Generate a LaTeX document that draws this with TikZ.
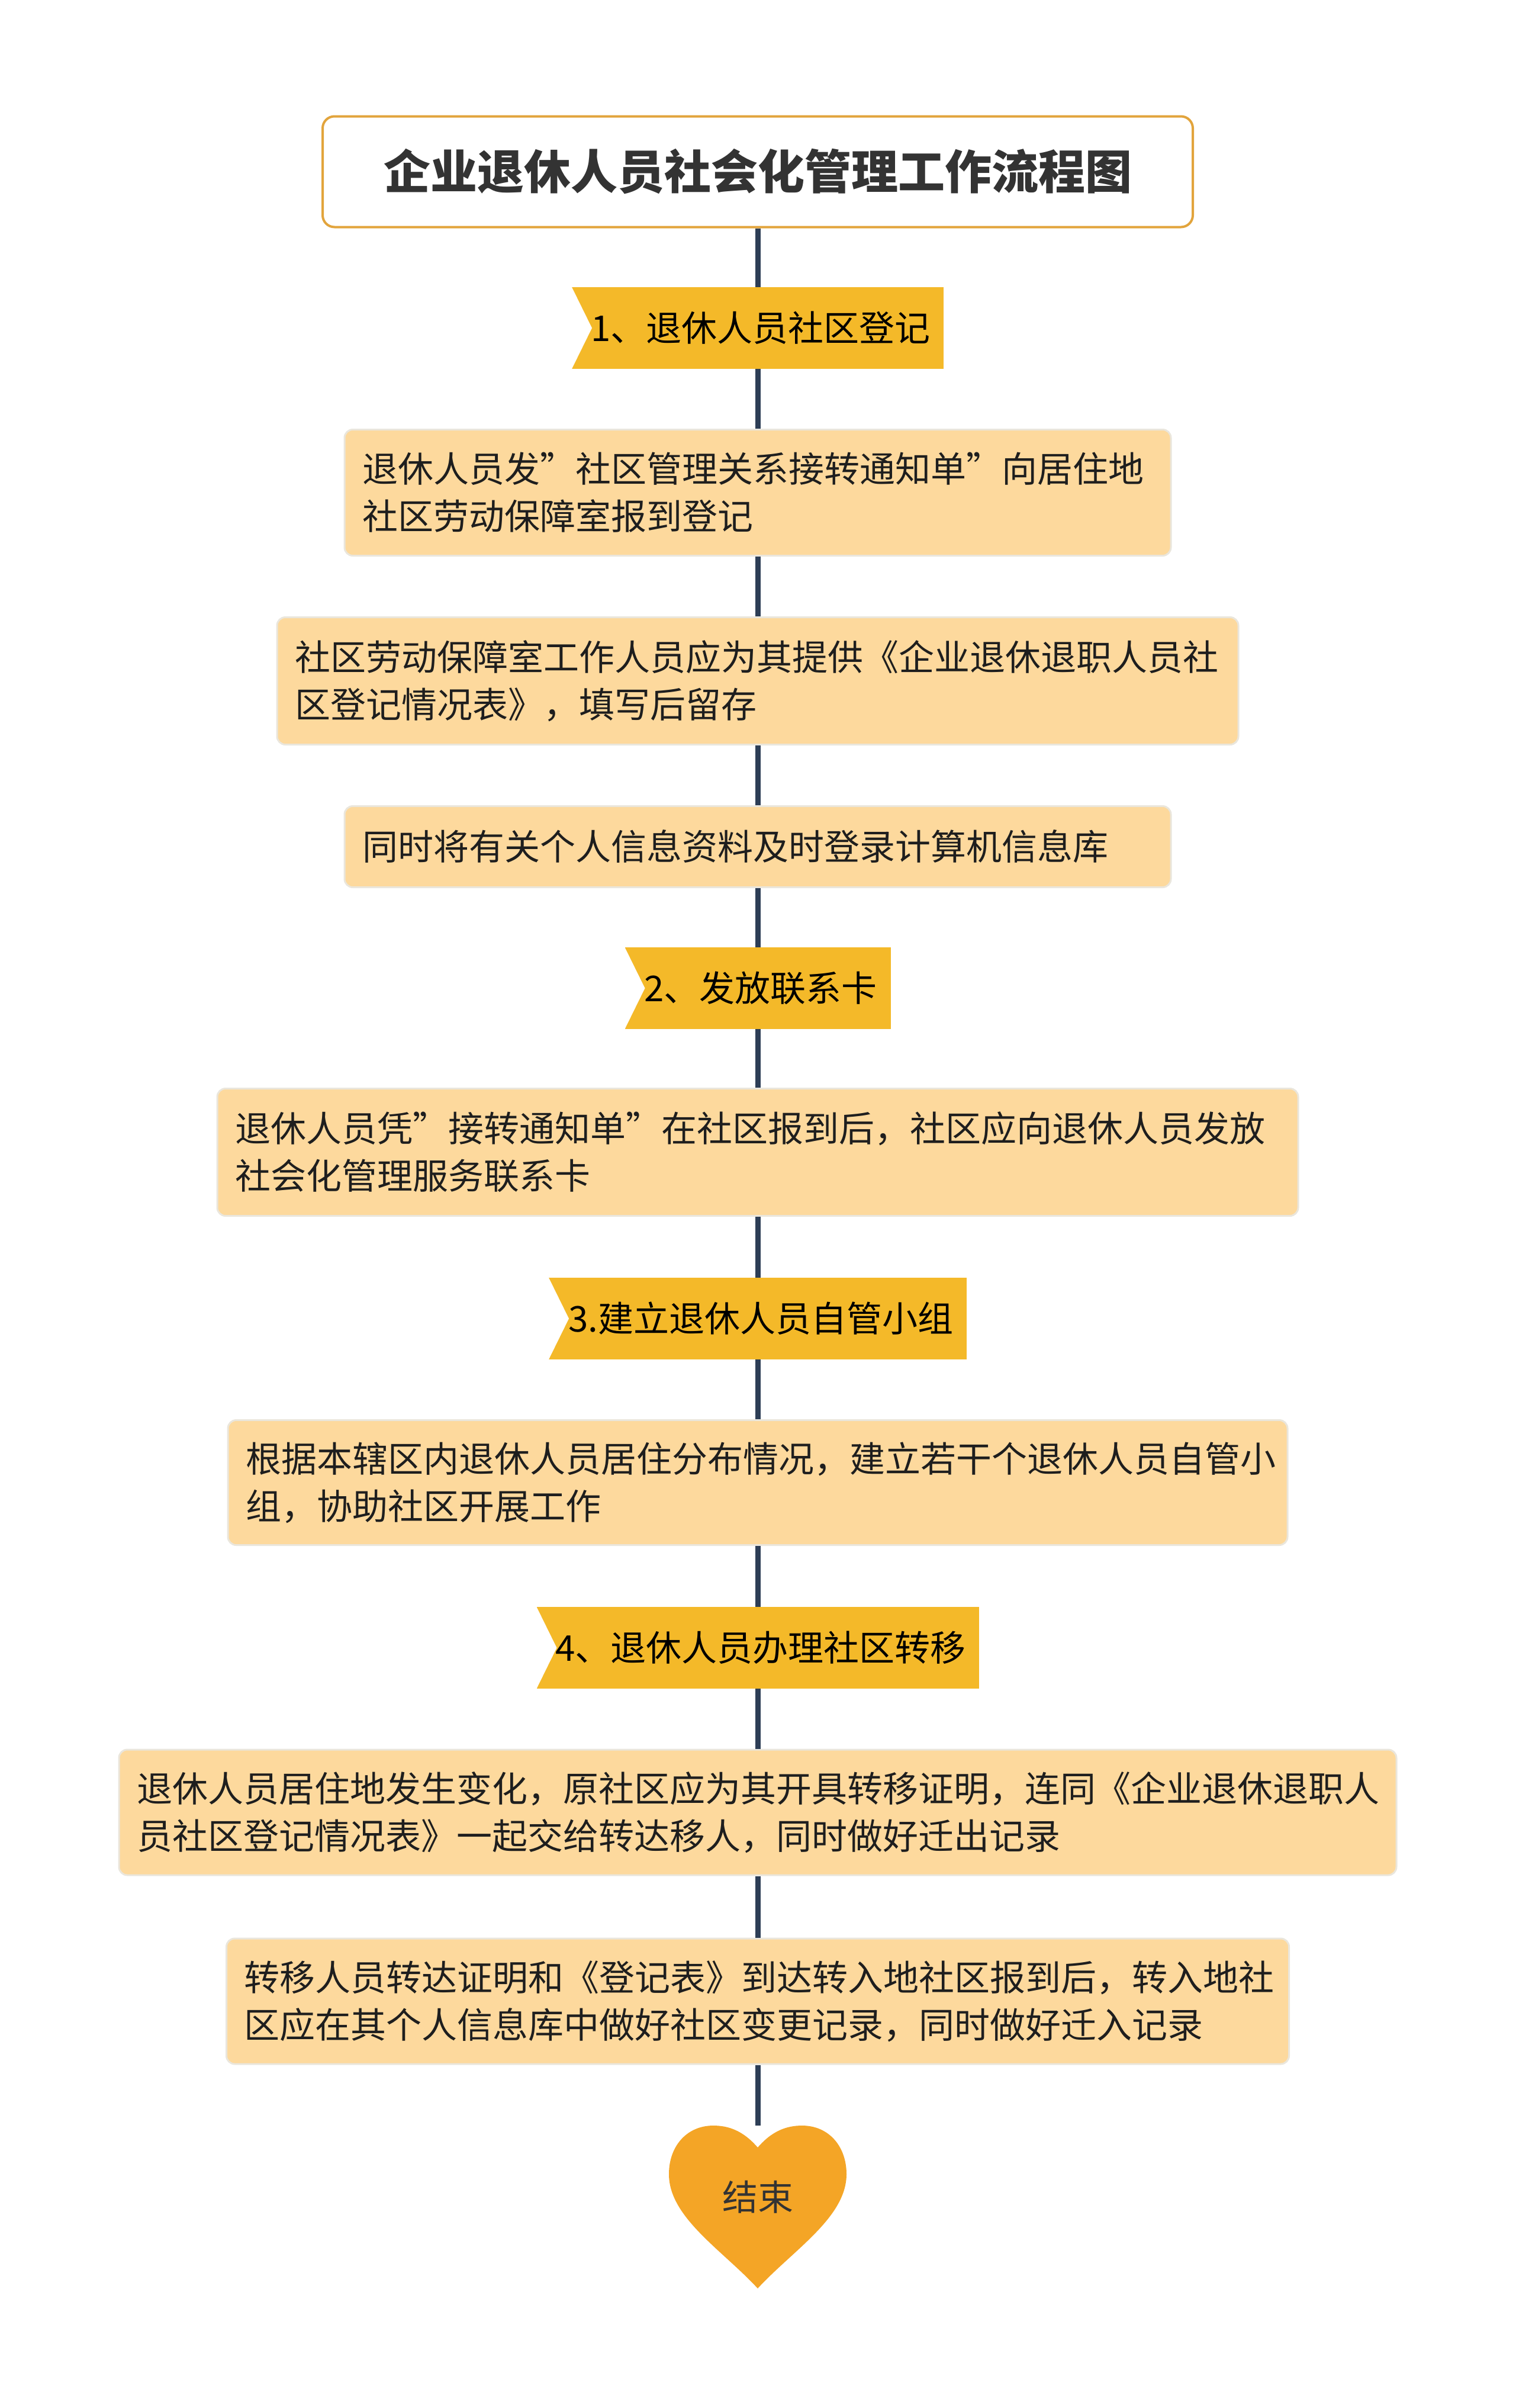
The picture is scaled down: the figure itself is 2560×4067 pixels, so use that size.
\documentclass[tikz,border=0pt]{standalone}
\usepackage{fontspec}
\setmainfont{Noto Sans CJK SC}
\usetikzlibrary{calc}
\definecolor{spinec}{HTML}{2D3E56}
\definecolor{bannerc}{HTML}{F4B929}
\definecolor{boxc}{HTML}{FDD99D}
\definecolor{heartc}{HTML}{F4A526}
\definecolor{titleline}{HTML}{E2A43C}
\definecolor{boxline}{HTML}{EAE6DC}
\definecolor{txtc}{HTML}{1E1E1E}
\definecolor{titletxt}{HTML}{333333}
\begin{document}
\begin{tikzpicture}[x=1pt,y=-1pt,
  titlebox/.style={draw=titleline, line width=4pt, fill=white, rounded corners=20pt,
    minimum width=1470pt, minimum height=187pt, inner sep=0pt,
    font=\fontsize{79}{90}\selectfont\bfseries, text=titletxt},
  stepbox/.style={fill=boxc, draw=boxline, line width=3pt, rounded corners=14pt,
    inner xsep=30pt, inner ysep=0pt, align=left,
    font=\fontsize{60}{80}\selectfont, text=txtc},
  banner/.style={fill=bannerc, minimum height=138pt, inner sep=0pt,
    font=\fontsize{60}{72}\selectfont, text=black,
    path picture={\fill[white] (path picture bounding box.south west) --
      ($(path picture bounding box.west)+(34pt,0pt)$) --
      (path picture bounding box.north west) -- cycle;}},
  spineline/.style={draw=spinec, line width=9pt}
]
\useasboundingbox (0,0) rectangle (2560,4067);

\node[titlebox] (t) at (1280,290) {企业退休人员社会化管理工作流程图};

\node[banner, minimum width=628pt] (b1) at (1280,554) {\hspace*{10pt}1、退休人员社区登记};
\node[stepbox, minimum width=1396pt, text width=1336pt, minimum height=213pt] (s1) at (1280,832)
  {退休人员发”社区管理关系接转通知单”向居住地\\社区劳动保障室报到登记};
\node[stepbox, minimum width=1624pt, text width=1564pt, minimum height=215pt] (s2) at (1280,1150)
  {社区劳动保障室工作人员应为其提供《企业退休退职人员社\\区登记情况表》，填写后留存};
\node[stepbox, minimum width=1396pt, text width=1336pt, minimum height=137pt] (s3) at (1280,1430)
  {同时将有关个人信息资料及时登录计算机信息库};

\node[banner, minimum width=449pt] (b2) at (1280,1669) {\hspace*{10pt}2、发放联系卡};
\node[stepbox, minimum width=1826pt, text width=1766pt, minimum height=215pt] (s4) at (1280,1946)
  {退休人员凭”接转通知单”在社区报到后，社区应向退休人员发放\\社会化管理服务联系卡};

\node[banner, minimum width=706pt] (b3) at (1280,2227) {\hspace*{10pt}3.建立退休人员自管小组};
\node[stepbox, minimum width=1790pt, text width=1730pt, minimum height=211pt] (s5) at (1280,2504)
  {根据本辖区内退休人员居住分布情况，建立若干个退休人员自管小\\组，协助社区开展工作};

\node[banner, minimum width=747pt] (b4) at (1280,2783) {\hspace*{10pt}4、退休人员办理社区转移};
\node[stepbox, minimum width=2158pt, text width=2098pt, minimum height=212pt] (s6) at (1280,3061)
  {退休人员居住地发生变化，原社区应为其开具转移证明，连同《企业退休退职人\\员社区登记情况表》一起交给转达移人，同时做好迁出记录};
\node[stepbox, minimum width=1795pt, text width=1735pt, minimum height=212pt] (s7) at (1280,3380)
  {转移人员转达证明和《登记表》到达转入地社区报到后，转入地社\\区应在其个人信息库中做好社区变更记录，同时做好迁入记录};

% heart
\fill[heartc] (1280,3627) .. controls (1305,3598) and (1330,3590) .. (1355,3590)
  .. controls (1400,3590) and (1430,3625) .. (1430,3672)
  .. controls (1430,3745) and (1340,3800) .. (1280,3865)
  .. controls (1220,3800) and (1130,3745) .. (1130,3672)
  .. controls (1130,3625) and (1160,3590) .. (1205,3590)
  .. controls (1230,3590) and (1255,3598) .. (1280,3627) -- cycle;
\node[font=\fontsize{60}{72}\selectfont, text=titletxt] (end) at (1280,3711) {结束};
\coordinate (endtop) at (1280,3590);

\draw[spineline] (t) -- (b1);
\draw[spineline] (b1) -- (s1);
\draw[spineline] (s1) -- (s2);
\draw[spineline] (s2) -- (s3);
\draw[spineline] (s3) -- (b2);
\draw[spineline] (b2) -- (s4);
\draw[spineline] (s4) -- (b3);
\draw[spineline] (b3) -- (s5);
\draw[spineline] (s5) -- (b4);
\draw[spineline] (b4) -- (s6);
\draw[spineline] (s6) -- (s7);
\draw[spineline] (s7.south) -- (endtop);
\end{tikzpicture}
\end{document}
